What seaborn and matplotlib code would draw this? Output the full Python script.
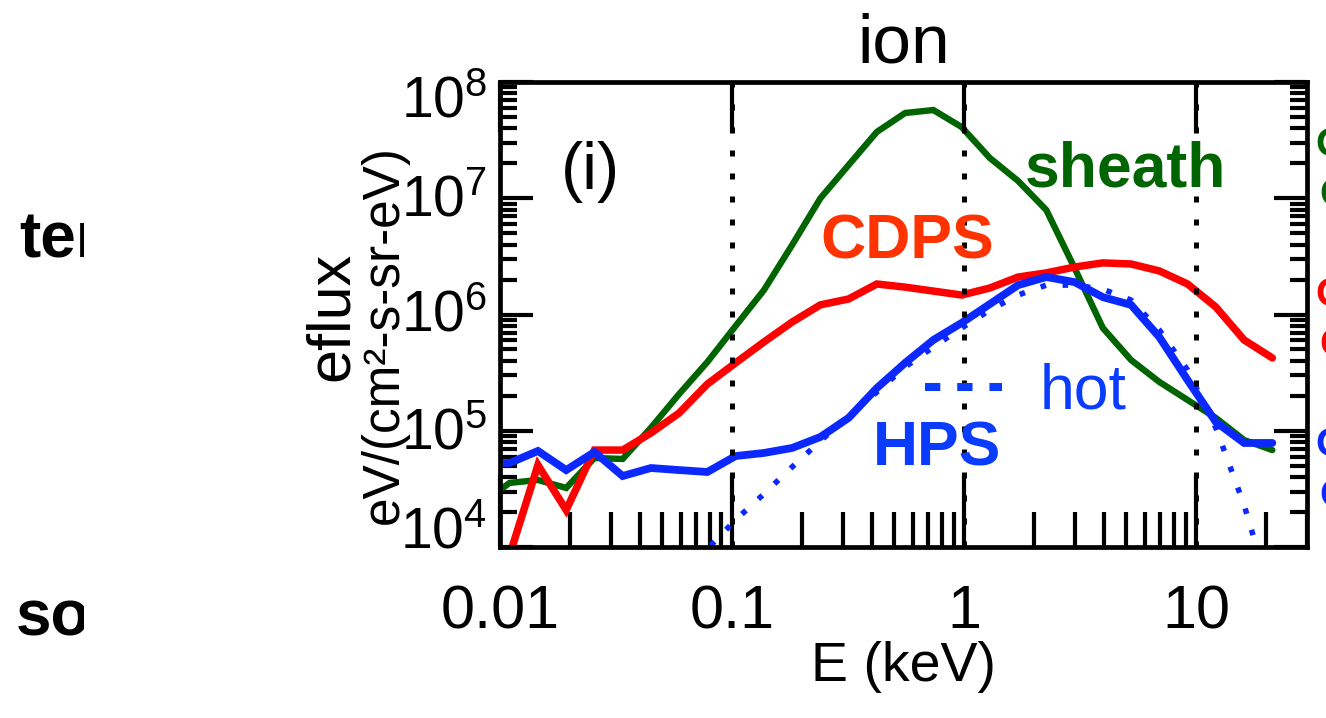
import numpy as np
import pandas as pd
import matplotlib
matplotlib.use("Agg")
import matplotlib.pyplot as plt
import seaborn as sns
from matplotlib.lines import Line2D
from matplotlib.transforms import offset_copy, Bbox
from matplotlib.ticker import FixedLocator, LogLocator, NullFormatter

# ---------------- data ----------------
energy_kev = [0.00832, 0.01101, 0.01457, 0.01928, 0.02551, 0.03377, 0.04469,
              0.05913, 0.07825, 0.1035, 0.1371, 0.1814, 0.2401, 0.3177, 0.4204,
              0.5565, 0.7365, 0.9747, 1.290, 1.707, 2.259, 2.990, 3.957, 5.237,
              6.931, 9.173, 12.14, 16.07, 21.27]

sheath_eflux = [2.39e4, 3.56e4, 3.77e4, 3.22e4, 5.83e4, 5.72e4, 1.06e5, 2.07e5,
                3.90e5, 7.96e5, 1.62e6, 3.96e6, 1.00e7, 1.93e7, 3.72e7, 5.41e7,
                5.74e7, 4.10e7, 2.22e7, 1.41e7, 7.92e6, 2.51e6, 7.66e5, 4.06e5,
                2.63e5, 1.84e5, 1.29e5, 8.32e4, 6.82e4]

cdps_energy = energy_kev[1:]
cdps_eflux = [8.53e3, 5.07e4, 2.08e4, 6.82e4, 6.82e4, 9.56e4, 1.42e5, 2.52e5,
              3.83e5, 5.80e5, 8.61e5, 1.21e6, 1.36e6, 1.83e6, 1.72e6, 1.59e6,
              1.47e6, 1.69e6, 2.10e6, 2.28e6, 2.56e6, 2.78e6, 2.72e6, 2.37e6,
              1.83e6, 1.16e6, 6.04e5, 4.23e5]

hps_eflux = [5.28e4, 5.28e4, 6.70e4, 4.59e4, 6.56e4, 4.08e4, 4.78e4, 4.59e4,
             4.42e4, 6.06e4, 6.44e4, 7.11e4, 8.84e4, 1.29e5, 2.33e5, 3.83e5,
             6.04e5, 8.46e5, 1.23e6, 1.79e6, 2.10e6, 1.90e6, 1.41e6, 1.21e6,
             6.40e5, 2.73e5, 1.19e5, 7.85e4, 7.85e4]

hot_energy = energy_kev[7:]
hot_eflux = [5.52e3, 9.62e3, 1.71e4, 2.86e4, 4.88e4, 8.16e4, 1.34e5, 2.15e5,
             3.53e5, 5.25e5, 7.65e5, 1.09e6, 1.47e6, 1.79e6, 1.79e6, 1.65e6,
             1.33e6, 7.36e5, 3.33e5, 1.06e5, 2.30e4, 3.50e3]

ref_energies = [0.1, 1, 10]
xticks = [0.01, 0.1, 1, 10]
xtick_labels = ["0.01", "0.1", "1", "10"]
yticks = [1e4, 1e5, 1e6, 1e7, 1e8]
ytick_labels = [r"$10^{4}$", r"$10^{5}$", r"$10^{6}$", r"$10^{7}$", r"$10^{8}$"]

GREEN = "#006400"
RED = "#FF0000"
RED_TXT = "#FF3300"
BLUE = "#0A28FF"
BLUE_TXT = "#0A3CFF"

# ---------------- style ----------------
sns.set_style("white")
plt.rcParams["font.family"] = ["Liberation Sans", "DejaVu Sans"]
plt.rcParams["mathtext.fontset"] = "custom"
plt.rcParams["mathtext.rm"] = "Liberation Sans"
plt.rcParams["mathtext.it"] = "Liberation Sans:italic"
plt.rcParams["mathtext.bf"] = "Liberation Sans:bold"
plt.rcParams["mathtext.default"] = "regular"
for k in ["text.color", "axes.labelcolor", "xtick.color", "ytick.color",
          "axes.edgecolor"]:
    plt.rcParams[k] = "black"

W, H = 1326, 718
fig = plt.figure(figsize=(W / 100, H / 100), dpi=100)
fig.patch.set_facecolor("white")
L, R, T, B = 500, 1307, 82, 547
ax = fig.add_axes([L / W, 1 - B / H, (R - L) / W, (B - T) / H])

ax.set_xscale("log")
ax.set_yscale("log")

# ---------------- data lines ----------------
sns.lineplot(x=energy_kev, y=sheath_eflux, ax=ax, color=GREEN, linewidth=4.6,
             estimator=None, sort=False)
sns.lineplot(x=cdps_energy, y=cdps_eflux, ax=ax, color=RED, linewidth=5.4,
             estimator=None, sort=False)
sns.lineplot(x=energy_kev, y=hps_eflux, ax=ax, color=BLUE, linewidth=5.6,
             estimator=None, sort=False)
sns.lineplot(x=hot_energy, y=hot_eflux, ax=ax, color=BLUE, linewidth=4.0,
             estimator=None, sort=False)
ax.lines[-1].set_dashes((1, 3))
for ln in ax.lines:
    ln.set_solid_joinstyle("miter")

for e in ref_energies:
    ax.axvline(e, color="black", linewidth=3.6, linestyle=(0, (1.2, 3.4)),
               zorder=5)

ax.set_xlim(0.01, 30)
ax.set_ylim(1e4, 1e8)

# ---------------- axes / ticks ----------------
for sp in ax.spines.values():
    sp.set_linewidth(3.4)
    sp.set_color("black")

ax.xaxis.set_major_locator(FixedLocator(xticks))
ax.xaxis.set_minor_locator(LogLocator(base=10, subs=np.arange(2, 10)))
ax.xaxis.set_minor_formatter(NullFormatter())
ax.set_xticklabels(xtick_labels)
ax.yaxis.set_major_locator(FixedLocator(yticks))
ax.yaxis.set_minor_locator(LogLocator(base=10, subs=np.arange(2, 10)))
ax.yaxis.set_minor_formatter(NullFormatter())
ax.set_yticklabels([])

ax.tick_params(axis="x", which="major", direction="in", length=52, width=3,
               bottom=True, top=False, labelsize=44, pad=27)
ax.tick_params(axis="x", which="minor", direction="in", length=25, width=3,
               bottom=True, top=True)
ax.tick_params(axis="y", which="major", direction="in", length=24, width=3,
               left=True, right=True, labelleft=False)
ax.tick_params(axis="y", which="minor", direction="in", length=12, width=3,
               left=True, right=True)

ax2 = ax.twiny()
ax2.set_xscale("log")
ax2.set_xlim(ax.get_xlim())
ax2.xaxis.set_major_locator(FixedLocator(xticks))
ax2.xaxis.set_minor_locator(FixedLocator([]))
ax2.tick_params(axis="x", which="major", direction="in", length=36, width=3,
                top=True, bottom=False, labeltop=False)
for sp in ax2.spines.values():
    sp.set_visible(False)

# y tick labels (IDL-like placement)
ydrop = {1e4: 0, 1e5: 18, 1e6: 17, 1e7: 17, 1e8: 36}
for v, lab in zip(yticks, ytick_labels):
    tr = offset_copy(ax.get_yaxis_transform(), fig=fig, x=-13, y=-ydrop[v],
                     units="dots")
    ax.text(0, v, lab, transform=tr, ha="right", va="baseline", fontsize=41)

# ---------------- labels ----------------
ax.set_title("ion", fontsize=50, pad=14)
ax.set_xlabel("E (keV)", fontsize=40)
ax.xaxis.set_label_coords(0.5, -0.203)
fig.text(332 / W, 1 - 316 / H, "eflux", rotation=90, fontsize=44,
         ha="center", va="center")
fig.text(384 / W, 1 - 335 / H, "eV/(cm²-s-sr-eV)", rotation=90, fontsize=37,
         ha="center", va="center")

ax.text(0.1115, 0.806, "(i)", transform=ax.transAxes, fontsize=48,
        ha="center", va="center", zorder=10)
ax.text(0.6506, 0.7742, "sheath", transform=ax.transAxes, fontsize=45,
        fontweight="bold", color=GREEN, ha="left", va="baseline", zorder=10)
ax.text(0.3965, 0.6215, "CDPS", transform=ax.transAxes, fontsize=45,
        fontweight="bold", color=RED_TXT, ha="left", va="baseline", zorder=10)
ax.text(0.4622, 0.1763, "HPS", transform=ax.transAxes, fontsize=45,
        fontweight="bold", color=BLUE_TXT, ha="left", va="baseline", zorder=10)

hot_handle = Line2D([], [], color=BLUE_TXT, linewidth=5.8,
                    linestyle=(0, (1.9, 2.1)))
leg = ax.legend(handles=[hot_handle], labels=["hot"], loc="center left",
                bbox_to_anchor=(0.5266, 0.333), frameon=False, fontsize=45,
                handlelength=1.24, handletextpad=0.6, borderpad=0,
                borderaxespad=0)
for t in leg.get_texts():
    t.set_color(BLUE_TXT)

# ---------------- clipped neighbour-panel text ----------------
clip_left = Bbox.from_extents(0, 0, 84, H)
for s, xpx, ypx in [("ter", 19, 258), ("sou", 16, 635)]:
    t = fig.text(xpx / W, 1 - ypx / H, s, fontsize=46, fontweight="bold",
                 ha="left", va="baseline", color="black")
    t.set_clip_box(clip_left)
    t.set_clip_on(True)

for col, xpx, ypx in [(GREEN, 1315, 145), (GREEN, 1319, 195),
                      (RED, 1315, 295), (RED, 1319, 345),
                      (BLUE, 1315, 445), (BLUE, 1319, 496)]:
    fig.text(xpx / W, 1 - ypx / H, "O", fontsize=29, fontweight="bold",
             color=col, ha="left", va="center")

fig.savefig("out.png", dpi=100)
